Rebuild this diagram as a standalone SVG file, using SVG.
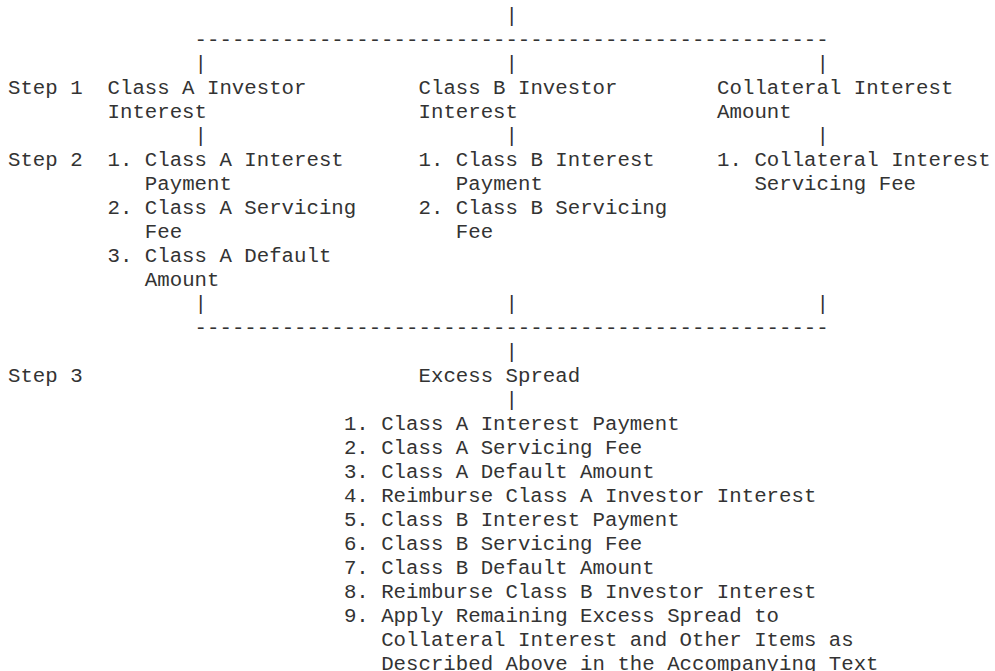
<svg xmlns="http://www.w3.org/2000/svg" width="995" height="671" viewBox="0 0 995 671">
<style>
text { font-family: "Liberation Mono", "DejaVu Sans Mono", monospace; font-size: 20.73px; fill: #333; white-space: pre; }
</style>
<rect x="0" y="0" width="995" height="671" fill="#fff"/>
<g id="connectors">
<text x="505.6" y="22">|</text>
<text x="194.6" y="46">---------------------------------------------------</text>
<text x="194.6" y="70">|</text>
<text x="505.6" y="70">|</text>
<text x="816.6" y="70">|</text>
<text x="194.6" y="142">|</text>
<text x="505.6" y="142">|</text>
<text x="816.6" y="142">|</text>
<text x="194.6" y="310">|</text>
<text x="505.6" y="310">|</text>
<text x="816.6" y="310">|</text>
<text x="194.6" y="334">---------------------------------------------------</text>
<text x="505.6" y="358">|</text>
<text x="505.6" y="406">|</text>
</g>
<g id="step-labels">
<text x="8" y="94">Step 1</text>
<text x="8" y="166">Step 2</text>
<text x="8" y="382">Step 3</text>
</g>
<g id="class-a-investor-interest">
<text x="107.52" y="94">Class A Investor</text>
<text x="107.52" y="118">Interest</text>
</g>
<g id="class-b-investor-interest">
<text x="418.52" y="94">Class B Investor</text>
<text x="418.52" y="118">Interest</text>
</g>
<g id="collateral-interest-amount">
<text x="717.08" y="94">Collateral Interest</text>
<text x="717.08" y="118">Amount</text>
</g>
<g id="class-a-step2">
<text x="107.52" y="166">1. Class A Interest</text>
<text x="144.84" y="190">Payment</text>
<text x="107.52" y="214">2. Class A Servicing</text>
<text x="144.84" y="238">Fee</text>
<text x="107.52" y="262">3. Class A Default</text>
<text x="144.84" y="286">Amount</text>
</g>
<g id="class-b-step2">
<text x="418.52" y="166">1. Class B Interest</text>
<text x="455.84" y="190">Payment</text>
<text x="418.52" y="214">2. Class B Servicing</text>
<text x="455.84" y="238">Fee</text>
</g>
<g id="collateral-step2">
<text x="717.08" y="166">1. Collateral Interest</text>
<text x="754.4" y="190">Servicing Fee</text>
</g>
<g id="excess-spread">
<text x="418.52" y="382">Excess Spread</text>
</g>
<g id="excess-spread-allocation">
<text x="343.88" y="430">1. Class A Interest Payment</text>
<text x="343.88" y="454">2. Class A Servicing Fee</text>
<text x="343.88" y="478">3. Class A Default Amount</text>
<text x="343.88" y="502">4. Reimburse Class A Investor Interest</text>
<text x="343.88" y="526">5. Class B Interest Payment</text>
<text x="343.88" y="550">6. Class B Servicing Fee</text>
<text x="343.88" y="574">7. Class B Default Amount</text>
<text x="343.88" y="598">8. Reimburse Class B Investor Interest</text>
<text x="343.88" y="622">9. Apply Remaining Excess Spread to</text>
<text x="381.2" y="646">Collateral Interest and Other Items as</text>
<text x="381.2" y="670">Described Above in the Accompanying Text</text>
</g>
</svg>
